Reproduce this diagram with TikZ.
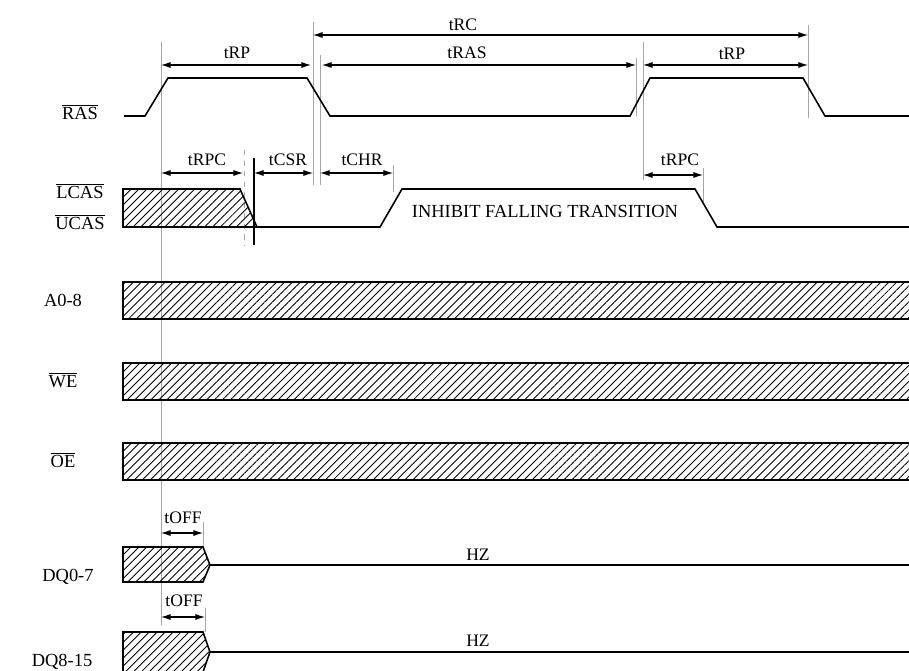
\documentclass[tikz,border=0pt]{standalone}
\usepackage{fontspec}
\setmainfont{Liberation Serif}
\usepackage{tikz}
\usetikzlibrary{arrows.meta,patterns.meta}
\tikzset{
	wave/.style={line width=0.9pt},
	guide/.style={gray!70,line width=0.5pt},
	dimarr/.style={{Latex[length=5.5pt,width=3.5pt]}-{Latex[length=5.5pt,width=3.5pt]},line width=0.6pt},
	tlabel/.style={font=\fontsize{10}{12}\selectfont,inner sep=1pt},
	siglabel/.style={font=\fontsize{10.5}{12}\selectfont,inner sep=1pt},
	lines/.style={pattern={Lines[angle=45,distance=3.2pt,line width=0.5pt]}},
	hatch/.style={draw,line width=0.9pt,lines}
}

\begin{document}
\begin{tikzpicture}[x=0.02cm,y=-0.02cm]
	\useasboundingbox (0,0) rectangle (909,670);
	% signal names
	\node[siglabel] (ras) at (80,112) {$\overline{\mbox{RAS}}$};
	\node[siglabel] (lcas) at (80,191) {$\overline{\mbox{LCAS}}$};
	\node[siglabel] (ucas) at (80,222) {$\overline{\mbox{UCAS}}$};
	\node[siglabel] (addr) at (63,300) {A0-8};
	\node[siglabel] (we) at (63,380) {$\overline{\mbox{WE}}$};
	\node[siglabel] (oe) at (63,460) {$\overline{\mbox{OE}}$};
	\node[siglabel] (dqlo) at (68,577) {DQ0-7};
	\node[siglabel] (dqhi) at (62,662) {DQ8-15};
	% guide lines
	\draw[guide] (161,42) -- (161,625);
	\draw[guide] (313,22) -- (313,185);
	\draw[guide] (320,55) -- (320,185);
	\draw[guide,dashed] (244,150) -- (244,245);
	\draw[line width=0.6pt] (254,158) -- (254,245);
	\draw[guide] (393,165) -- (393,192);
	\draw[guide] (636,58) -- (636,116);
	\draw[guide] (643,42) -- (643,180);
	\draw[guide] (808,25) -- (808,118);
	\draw[guide] (703,168) -- (703,205);
	\draw[guide] (203,522) -- (203,547);
	\draw[guide] (205,608) -- (205,632);
	% waveforms
	\draw[wave] (124,116) -- (145,116) -- (168,78) -- (307,78) -- (330,116) -- (630,116)
		-- (650,78) -- (803,78) -- (825,116) -- (909,116);
	\draw[hatch] (123,189) -- (240,189) -- (257,227) -- (123,227) -- cycle;
	\draw[wave] (257,227) -- (380,227) -- (402,189) -- (695,189) -- (717,227) -- (909,227);
	\foreach \top in {282,363,443}{
		\fill[lines] (123,\top) rectangle (909,\top+37);
		\draw[wave] (909,\top) -- (123,\top) -- (123,\top+37) -- (909,\top+37);
	}
	\draw[hatch] (123,547) -- (203,547) -- (210,565) -- (203,582) -- (123,582) -- cycle;
	\draw[wave] (210,565) -- (909,565);
	\draw[hatch] (123,632) -- (203,632) -- (210,652) -- (203,672) -- (123,672) -- cycle;
	\draw[wave] (210,652) -- (909,652);
	% timing
	\draw[dimarr] (313,35) -- (808,35);
	\node[tlabel] (trc) at (463,25) {tRC};
	\draw[dimarr] (161,65) -- (311,65);
	\node[tlabel] (trp1) at (237,53) {tRP};
	\draw[dimarr] (322,65) -- (636,65);
	\node[tlabel] (tras) at (467,53) {tRAS};
	\draw[dimarr] (643,65) -- (808,65);
	\node[tlabel] (trp2) at (732,54) {tRP};
	\draw[dimarr] (161,173) -- (243,173);
	\node[tlabel] (trpc1) at (207,160) {tRPC};
	\draw[dimarr] (254,173) -- (313,173);
	\node[tlabel] (tcsr) at (288,160) {tCSR};
	\draw[dimarr] (320,173) -- (393,173);
	\node[tlabel] (tchr) at (362,160) {tCHR};
	\draw[dimarr] (643,175) -- (703,175);
	\node[tlabel] (trpc2) at (680,160) {tRPC};
	\draw[dimarr] (161,533) -- (203,533);
	\node[tlabel] (toff1) at (183,518) {tOFF};
	\draw[dimarr] (161,617) -- (205,617);
	\node[tlabel] (toff2) at (184,601) {tOFF};
	\node[tlabel,font=\fontsize{10.5}{12}\selectfont] (inhibit) at (545,211) {INHIBIT FALLING TRANSITION};
	\node[tlabel] (hzlo) at (478,555) {HZ};
	\node[tlabel] (hzhi) at (478,641) {HZ};
\end{tikzpicture}
\end{document}
